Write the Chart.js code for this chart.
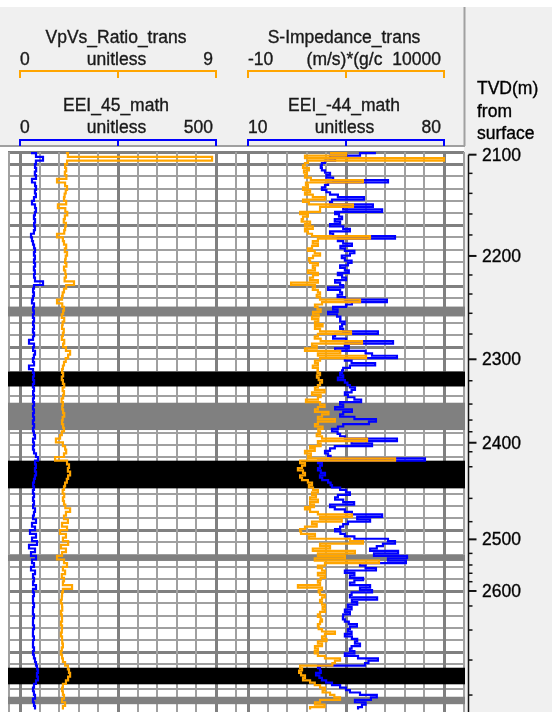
<!DOCTYPE html>
<html>
<head>
<meta charset="utf-8">
<title>Log display</title>
<script src="https://cdn.jsdelivr.net/npm/chart.js@4.4.1/dist/chart.umd.min.js"></script>
<style>
  html, body { margin: 0; padding: 0; background: #f0f0f0; }
  canvas { display: block; }
</style>
</head>
<body>
<canvas id="logChart" width="552" height="712"></canvas>
<script>
// ---- data (read off the reference log) ----
// left track curves were read every 3 m of measured depth
const depthMdLeft = [
  2091, 2094, 2097, 2100, 2103, 2106, 2109, 2112, 2115, 2118,
  2121, 2124, 2127, 2130, 2133, 2136, 2139, 2142, 2145, 2148,
  2151, 2154, 2157, 2160, 2163, 2166, 2169, 2172, 2175, 2178,
  2181, 2184, 2187, 2190, 2193, 2196, 2199, 2202, 2205, 2208,
  2211, 2214, 2217, 2220, 2223, 2226, 2229, 2232, 2235, 2238,
  2241, 2244, 2247, 2250, 2253, 2256, 2259, 2262, 2265, 2268,
  2271, 2274, 2277, 2280, 2283, 2286, 2289, 2292, 2295, 2298,
  2301, 2304, 2307, 2310, 2313, 2316, 2319, 2322, 2325, 2328,
  2331, 2334, 2337, 2340, 2343, 2346, 2349, 2352, 2355, 2358,
  2361, 2364, 2367, 2370, 2373, 2376, 2379, 2382, 2385, 2388,
  2391, 2394, 2397, 2400, 2403, 2406, 2409, 2412, 2415, 2418,
  2421, 2424, 2427, 2430, 2433, 2436, 2439, 2442, 2445, 2448,
  2451, 2454, 2457, 2460, 2463, 2466, 2469, 2472, 2475, 2478,
  2481, 2484, 2487, 2490, 2493, 2496, 2499, 2502, 2505, 2508,
  2511, 2514, 2517, 2520, 2523, 2526, 2529, 2532, 2535, 2538,
  2541, 2544, 2547
];

const vpvsRatio = [
  2.11, 2.20, 8.82, 2.16, 2.07, 2.12, 2.06, 2.13, 1.70, 2.07,
  2.16, 2.10, 2.05, 2.02, 2.12, 1.74, 2.08, 2.17, 2.06, 2.01,
  2.11, 2.07, 2.03, 1.70, 1.97, 2.02, 2.12, 2.06, 2.16, 2.10,
  2.07, 2.13, 2.02, 2.08, 2.11, 2.05, 2.48, 2.12, 2.02, 1.96,
  1.93, 1.70, 1.94, 2.02, 1.98, 1.92, 2.03, 1.96, 1.93, 2.01,
  1.97, 1.92, 2.03, 1.98, 2.11, 2.30, 2.21, 2.10, 2.02, 1.97,
  1.93, 1.98, 1.92, 1.97, 2.03, 1.96, 2.02, 1.98, 1.91, 1.97,
  1.94, 1.98, 2.03, 1.96, 1.93, 1.98, 2.02, 1.92, 1.84, 1.65,
  1.97, 2.07, 2.12, 2.02, 1.61, 2.16, 2.25, 2.20, 2.30, 2.21,
  2.15, 2.07, 2.02, 1.96, 2.03, 1.97, 2.02, 2.08, 2.30, 2.11,
  2.02, 2.20, 1.93, 2.16, 1.84, 2.11, 1.97, 2.21, 1.88, 2.11,
  1.93, 1.70, 2.02, 2.16, 1.97, 2.07, 1.92, 2.02, 1.97, 2.39,
  1.97, 1.93, 1.92, 1.88, 1.93, 1.94, 1.88, 1.92, 1.93, 1.88,
  1.93, 1.92, 1.88, 1.93, 1.94, 1.97, 1.92, 1.88, 1.93, 1.97,
  2.07, 2.20, 2.25, 2.30, 2.21, 2.11, 1.97, 1.93, 1.97, 2.02,
  1.93, 2.07, 1.97
];

const eei45 = [
  28.1, 40.8, 58.7, 40.6, 38.3, 41.2, 37.9, 40.8, 30.6, 38.4,
  40.9, 38.1, 40.5, 35.7, 30.6, 38.3, 40.8, 38.0, 35.6, 38.4,
  35.9, 38.2, 35.5, 28.1, 30.6, 33.2, 35.8, 38.3, 35.6, 38.1,
  35.7, 38.4, 35.5, 37.9, 35.8, 38.2, 58.7, 35.7, 33.3, 35.6,
  33.1, 30.6, 35.7, 33.4, 35.5, 33.0, 35.8, 33.3, 35.6, 33.1,
  35.9, 33.2, 23.0, 35.7, 33.4, 38.3, 35.5, 33.1, 35.8, 23.0,
  33.2, 35.6, 33.3, 35.9, 33.0, 35.7, 33.4, 35.5, 33.2, 35.8,
  33.1, 35.6, 33.3, 35.7, 33.0, 35.9, 33.2, 35.5, 38.3, 33.3,
  35.7, 33.1, 35.8, 40.8, 45.9, 38.3, 40.6, 38.2, 40.9, 38.1,
  35.7, 33.3, 35.6, 33.0, 35.8, 33.2, 35.7, 33.4, 38.3, 35.6,
  33.2, 40.8, 30.6, 38.3, 25.5, 40.8, 30.6, 43.4, 23.0, 38.3,
  28.1, 40.8, 30.6, 35.7, 28.1, 38.3, 33.2, 35.7, 33.3, 40.8,
  33.2, 35.6, 33.1, 33.3, 35.7, 33.2, 33.0, 35.6, 33.3, 33.1,
  35.7, 33.2, 33.0, 35.5, 33.3, 33.1, 35.7, 33.2, 35.6, 38.3,
  40.8, 43.4, 45.9, 43.3, 45.8, 40.8, 35.7, 33.2, 35.6, 38.3,
  33.2, 35.7, 38.3
];

// right track curves were read every 2 m of measured depth
const depthMdRight = [
  2091, 2093, 2095, 2097, 2099, 2101, 2103, 2105, 2107, 2109,
  2111, 2113, 2115, 2117, 2119, 2121, 2123, 2125, 2127, 2129,
  2131, 2133, 2135, 2137, 2139, 2141, 2143, 2145, 2147, 2149,
  2151, 2153, 2155, 2157, 2159, 2161, 2163, 2165, 2167, 2169,
  2171, 2173, 2175, 2177, 2179, 2181, 2183, 2185, 2187, 2189,
  2191, 2193, 2195, 2197, 2199, 2201, 2203, 2205, 2207, 2209,
  2211, 2213, 2215, 2217, 2219, 2221, 2223, 2225, 2227, 2229,
  2231, 2233, 2235, 2237, 2239, 2241, 2243, 2245, 2247, 2249,
  2251, 2253, 2255, 2257, 2259, 2261, 2263, 2265, 2267, 2269,
  2271, 2273, 2275, 2277, 2279, 2281, 2283, 2285, 2287, 2289,
  2291, 2293, 2295, 2297, 2299, 2301, 2303, 2305, 2307, 2309,
  2311, 2313, 2315, 2317, 2319, 2321, 2323, 2325, 2327, 2329,
  2331, 2333, 2335, 2337, 2339, 2341, 2343, 2345, 2347, 2349,
  2351, 2353, 2355, 2357, 2359, 2361, 2363, 2365, 2367, 2369,
  2371, 2373, 2375, 2377, 2379, 2381, 2383, 2385, 2387, 2389,
  2391, 2393, 2395, 2397, 2399, 2401, 2403, 2405, 2407, 2409,
  2411, 2413, 2415, 2417, 2419, 2421, 2423, 2425, 2427, 2429,
  2431, 2433, 2435, 2437, 2439, 2441, 2443, 2445, 2447, 2449,
  2451, 2453, 2455, 2457, 2459, 2461, 2463, 2465, 2467, 2469,
  2471, 2473, 2475, 2477, 2479, 2481, 2483, 2485, 2487, 2489,
  2491, 2493, 2495, 2497, 2499, 2501, 2503, 2505, 2507, 2509,
  2511, 2513, 2515, 2517, 2519, 2521, 2523, 2525, 2527, 2529,
  2531, 2533, 2535, 2537, 2539, 2541, 2543, 2545, 2547
];

const sImpedance = [
  4180, 5000, 2900, 10000, 3050, 2900, 2800, 3100, 2850, 3000,
  2900, 3200, 5860, 2950, 3050, 2800, 3160, 2900, 3300, 3920,
  2800, 3100, 5350, 3670, 3670, 2650, 3050, 2800, 2730, 3160,
  2900, 3300, 2900, 3050, 3260, 6220, 3560, 3300, 3560, 3260,
  3050, 3400, 3670, 3310, 3100, 3160, 3560, 3300, 3410, 3050,
  3560, 3310, 3150, 3560, 2190, 3410, 3300, 3560, 3670, 3500,
  3670, 5710, 3770, 3410, 3540, 3700, 3310, 3600, 3260, 3580,
  3410, 3800, 3410, 3670, 5250, 3560, 3400, 3700, 5810, 3260,
  3500, 2900, 4700, 3560, 6020, 3670, 3410, 3560, 3300, 3560,
  3540, 3670, 3510, 3600, 3770, 3670, 3560, 3410, 3900, 3260,
  3700, 3560, 2950, 3670, 3900, 3560, 3410, 4100, 3770, 3560,
  4430, 3560, 3410, 3800, 3580, 3670, 3500, 3770, 6070, 3560,
  3700, 3160, 3400, 2900, 3200, 3050, 7500, 2650, 2900, 2750,
  2540, 2800, 2900, 2650, 2750, 3050, 3260, 3100, 3310, 3560,
  3260, 3460, 3160, 3560, 3160, 3360, 2900, 3160, 3560, 5300,
  3670, 4780, 3260, 3500, 2900, 2650, 2700, 3410, 3100, 5200,
  5860, 3670, 4180, 3300, 5450, 3560, 4940, 3400, 6680, 3920,
  3560, 3770, 3920, 3560, 3920, 3700, 3560, 3670, 2540, 3770,
  3600, 3670, 3920, 3770, 3670, 3770, 3920, 3800, 3920, 3670,
  3560, 3700, 3770, 3670, 3560, 3600, 3770, 4430, 3920, 3770,
  4000, 3560, 3770, 3410, 3560, 3400, 3560, 3920, 4690, 4430,
  4300, 2650, 2750, 2600, 2700, 2900, 2800, 3160, 3400, 3670,
  3920, 3800, 4180, 4400, 4690, 3670, 3410, 3900, 3160
];

const eeiMinus44 = [
  55.7, 50.0, 39.3, 41.1, 37.5, 36.4, 36.0, 36.4, 37.5, 39.3,
  38.0, 40.4, 60.0, 38.6, 37.5, 36.4, 38.0, 39.3, 42.1, 51.4,
  40.0, 39.3, 54.6, 44.0, 57.9, 41.1, 42.5, 43.6, 41.0, 42.9,
  39.3, 44.0, 46.4, 39.3, 40.4, 62.5, 42.1, 44.0, 47.1, 43.0,
  44.6, 48.0, 46.4, 43.5, 44.6, 47.0, 45.7, 42.9, 44.6, 46.0,
  42.1, 43.6, 45.0, 41.1, 42.9, 44.0, 38.6, 42.9, 43.6, 42.0,
  44.6, 59.6, 47.1, 45.0, 40.4, 42.0, 38.6, 41.8, 43.0, 42.9,
  44.5, 43.6, 42.9, 44.0, 56.4, 41.1, 40.4, 45.0, 61.8, 44.6,
  46.0, 41.1, 52.0, 54.3, 63.2, 44.6, 47.0, 55.4, 46.4, 44.0,
  43.6, 42.9, 44.0, 42.1, 44.6, 45.5, 46.4, 48.2, 47.0, 44.6,
  45.7, 48.0, 50.4, 42.9, 44.0, 41.1, 47.1, 44.0, 42.9, 48.0,
  55.7, 53.2, 44.0, 42.1, 40.0, 42.0, 42.9, 44.6, 63.2, 47.0,
  54.3, 41.0, 39.3, 37.5, 38.6, 39.5, 73.2, 35.0, 36.4, 35.7,
  35.0, 36.0, 37.5, 35.7, 36.5, 38.6, 39.5, 40.0, 42.9, 45.0,
  46.4, 42.1, 41.1, 44.0, 47.9, 39.3, 41.0, 44.6, 47.1, 57.9,
  49.0, 53.6, 45.7, 44.0, 42.9, 41.1, 43.0, 44.6, 48.0, 60.0,
  62.5, 58.2, 56.0, 53.6, 63.6, 55.0, 66.8, 60.0, 66.4, 50.0,
  52.0, 55.7, 44.6, 48.0, 46.4, 51.1, 48.0, 46.4, 53.6, 50.0,
  54.3, 47.0, 46.4, 56.1, 47.1, 49.0, 45.7, 47.0, 44.6, 46.4,
  44.0, 43.9, 44.6, 46.0, 48.9, 46.4, 45.7, 47.0, 44.6, 47.1,
  49.0, 48.2, 50.0, 47.0, 46.4, 48.0, 44.6, 49.3, 56.4, 53.0,
  51.8, 35.0, 35.7, 36.0, 34.3, 35.5, 36.4, 37.9, 40.0, 42.9,
  45.0, 46.4, 50.0, 56.0, 53.9, 48.2, 52.0, 50.7, 49.3
];

// curve headers: order = VpVs, EEI_45, S-Impedance, EEI_-44
const curveNames = ['VpVs_Ratio_trans', 'EEI_45_math', 'S-Impedance_trans', 'EEI_-44_math'];
const curveUnits = ['unitless', 'unitless', '(m/s)*(g/c', 'unitless'];
const curveMin = [0, 0, -10, 10];
const curveMax = [9, 500, 10000, 80];
const curveMinLabel = ['0', '0', '-10', '10'];
const curveMaxLabel = ['9', '500', '10000', '80'];

// TVD depth track: tick values and the measured depth where each sits
const tvdTicks = [
  2100, 2120, 2140, 2160, 2180, 2200, 2220, 2240, 2260, 2280,
  2300, 2320, 2340, 2360, 2380, 2400, 2420, 2440, 2460, 2480,
  2500, 2520, 2540, 2560, 2580, 2600, 2620, 2640, 2660, 2680
];
const tvdTickMd = [
  2092.2, 2107.5, 2123.9, 2140.8, 2158.0, 2175.2, 2190.8, 2206.4, 2222.2, 2239.2,
  2259.9, 2277.5, 2296.6, 2309.7, 2319.3, 2328.3, 2335.7, 2348.0, 2373.9, 2393.0,
  2407.5, 2419.0, 2428.5, 2435.3, 2442.2, 2449.8, 2462.1, 2481.8, 2506.4, 2535.1
];
const depthTitle = ['TVD(m)', 'from', 'surface'];

// zone bands across both tracks (measured depth top / base)
const zoneTop  = [2216.7, 2270.0, 2295.5, 2343.0, 2420.3, 2512.7, 2536.5];
const zoneBase = [2224.8, 2282.2, 2317.9, 2365.7, 2425.2, 2526.3, 2542.6];
const zoneKind = ['grey', 'black', 'grey', 'black', 'grey', 'black', 'grey'];

// ---- layout / style ----
const MD_TOP = 2090;
const MD_BOTTOM = 2549;
const PLOT = {left: 8, top: 152, right: 464, bottom: 712};
const TRACKS = [
  {left: 8, right: 236, scaleLeft: 20, scaleRight: 216},
  {left: 236, right: 464, scaleLeft: 248, scaleRight: 444}
];
const ORANGE = '#FFA500';
const BLUE = '#0000FF';
const PANEL_BG = '#f0f0f0';
const GRID_MINOR = '#a0a0a0';
const GRID_MAJOR = '#808080';
const ZONE_COLORS = {grey: '#808080', black: '#000000'};
const FONT = '17.5px "Liberation Sans", Arial, sans-serif';
const TEXT_COLOR = '#1a1a1a';

const curveScaleIds = ['vpvs', 'eei45', 'simp', 'eei44'];
const curveTrack = [0, 0, 1, 1];
const curveColor = [ORANGE, BLUE, ORANGE, BLUE];

// make a scale span the whole plot so that [lo, hi] lands on the track's scale bar
function stretchRange(lo, hi, track) {
  const perPx = (hi - lo) / (track.scaleRight - track.scaleLeft);
  return {
    min: lo - (track.scaleLeft - PLOT.left) * perPx,
    max: hi + (PLOT.right - track.scaleRight) * perPx
  };
}

function curveScale(k, showGrid) {
  const range = stretchRange(curveMin[k], curveMax[k], TRACKS[curveTrack[k]]);
  const lo = curveMin[k], hi = curveMax[k];
  return {
    type: 'linear',
    axis: 'x',
    position: 'bottom',
    display: showGrid,
    min: range.min,
    max: range.max,
    grace: 0,
    ticks: {display: false},
    border: {display: false},
    grid: {
      drawTicks: false,
      lineWidth: (c) => (c.index % 5 === 0 ? 3 : 2),
      color: (c) => (c.index % 5 === 0 ? GRID_MAJOR : GRID_MINOR)
    },
    afterBuildTicks: (scale) => {
      const ticks = [];
      for (let j = 0; j <= 10; j++) ticks.push({value: lo + (hi - lo) * j / 10});
      scale.ticks = ticks;
    }
  };
}

function lineSet(k, depths, values) {
  return {
    label: curveNames[k],
    data: depths.map((d, i) => ({x: values[i], y: d})),
    xAxisID: curveScaleIds[k],
    yAxisID: 'md',
    indexAxis: 'y',
    borderColor: curveColor[k],
    borderWidth: 2.2,
    pointRadius: 0,
    stepped: true,
    fill: false
  };
}

// slightly heavier text, like the ClearType rendering of the original
function heavyText(ctx, text, x, y) {
  ctx.fillText(text, x, y);
  ctx.strokeText(text, x, y);
}

const logFrame = {
  id: 'logFrame',
  beforeDraw(chart) {
    const {ctx} = chart;
    ctx.save();
    ctx.fillStyle = PANEL_BG;
    ctx.fillRect(0, 0, chart.width, chart.height);
    ctx.fillStyle = '#ffffff';
    ctx.fillRect(0, 0, chart.width, 7);
    ctx.fillRect(0, 147, PLOT.right, chart.height - 147);
    ctx.restore();
  },
  beforeDatasetsDraw(chart) {
    const {ctx, chartArea: a} = chart;
    const yS = chart.scales.md;
    ctx.save();
    // track borders
    ctx.strokeStyle = GRID_MINOR;
    ctx.lineWidth = 2;
    [TRACKS[0].left + 1, TRACKS[0].right, TRACKS[1].right].forEach((x) => {
      ctx.beginPath();
      ctx.moveTo(x, a.top);
      ctx.lineTo(x, a.bottom);
      ctx.stroke();
    });
    // zone bands
    zoneTop.forEach((top, i) => {
      const y0 = yS.getPixelForValue(top);
      const y1 = yS.getPixelForValue(zoneBase[i]);
      ctx.fillStyle = ZONE_COLORS[zoneKind[i]];
      ctx.fillRect(a.left, y0, a.right - a.left + 1, y1 - y0);
    });
    ctx.restore();
  },
  afterDraw(chart) {
    const {ctx} = chart;
    ctx.save();

    // header separators
    ctx.strokeStyle = '#a0a0a0';
    ctx.lineWidth = 2;
    ctx.beginPath();
    ctx.moveTo(0, 146);
    ctx.lineTo(PLOT.right + 1, 146);
    ctx.moveTo(PLOT.right + 0.5, 7);
    ctx.lineTo(PLOT.right + 0.5, 146);
    ctx.stroke();

    // curve headers
    const nameBase = [43, 111];
    const rangeBase = [65, 133];
    const barY = [71, 140];
    const barDrop = [7, 6];
    ctx.font = FONT;
    curveNames.forEach((name, k) => {
      const row = k % 2;
      const sc = chart.scales[curveScaleIds[k]];
      const x0 = sc.getPixelForValue(curveMin[k]);
      const x1 = sc.getPixelForValue(curveMax[k]);
      const xm = (x0 + x1) / 2;
      ctx.fillStyle = TEXT_COLOR;
      ctx.strokeStyle = TEXT_COLOR;
      ctx.lineWidth = 0.35;
      ctx.textBaseline = 'alphabetic';
      ctx.textAlign = 'center';
      heavyText(ctx, name, xm - 2, nameBase[row]);
      heavyText(ctx, curveUnits[k], xm - 1.5, rangeBase[row]);
      ctx.textAlign = 'left';
      heavyText(ctx, curveMinLabel[k], x0, rangeBase[row]);
      ctx.textAlign = 'right';
      heavyText(ctx, curveMaxLabel[k], x1 - 3, rangeBase[row]);

      ctx.strokeStyle = curveColor[k];
      ctx.lineWidth = 2;
      const y = barY[row];
      ctx.beginPath();
      ctx.moveTo(x0, y + barDrop[row]);
      ctx.lineTo(x0, y);
      ctx.lineTo(x1, y);
      ctx.lineTo(x1, y + barDrop[row]);
      ctx.moveTo(xm, y);
      ctx.lineTo(xm, y + barDrop[row]);
      ctx.stroke();
    });

    // depth track title
    ctx.fillStyle = '#000000';
    ctx.strokeStyle = '#000000';
    ctx.lineWidth = 0.35;
    ctx.textAlign = 'left';
    ctx.textBaseline = 'alphabetic';
    depthTitle.forEach((t, i) => heavyText(ctx, t, 477, 94 + i * 22.5));

    // depth axis
    const yS = chart.scales.md;
    const axisX = 468.5;
    ctx.strokeStyle = '#111111';
    ctx.lineWidth = 1.5;
    ctx.beginPath();
    ctx.moveTo(axisX, yS.getPixelForValue(tvdTickMd[0]));
    ctx.lineTo(axisX, PLOT.bottom);
    ctx.stroke();
    ctx.textBaseline = 'middle';
    tvdTicks.forEach((tvd, i) => {
      const y = yS.getPixelForValue(tvdTickMd[i]);
      const major = tvd % 100 === 0;
      ctx.lineWidth = major ? 2 : 1.5;
      ctx.beginPath();
      ctx.moveTo(axisX, y);
      ctx.lineTo(axisX + (major ? 8 : 4), y);
      ctx.stroke();
      if (major) {
        ctx.lineWidth = 0.35;
        heavyText(ctx, String(tvd), 482, y + 1);
      }
    });

    ctx.restore();
  }
};

new Chart(document.getElementById('logChart'), {
  type: 'line',
  data: {
    datasets: [
      lineSet(0, depthMdLeft, vpvsRatio),
      lineSet(2, depthMdRight, sImpedance),
      lineSet(1, depthMdLeft, eei45),
      lineSet(3, depthMdRight, eeiMinus44)
    ]
  },
  options: {
    responsive: false,
    maintainAspectRatio: false,
    devicePixelRatio: 1,
    animation: false,
    layout: {
      padding: {
        left: PLOT.left,
        top: PLOT.top,
        right: 552 - PLOT.right,
        bottom: 712 - PLOT.bottom
      }
    },
    plugins: {
      legend: {display: false},
      tooltip: {enabled: false},
      title: {display: false}
    },
    scales: {
      md: {
        type: 'linear',
        axis: 'y',
        position: 'left',
        reverse: true,
        min: MD_TOP,
        max: MD_BOTTOM,
        ticks: {display: false},
        border: {display: false},
        grid: {
          drawTicks: false,
          lineWidth: (c) => (c.tick.value % 50 === 0 || c.tick.value === MD_TOP ? 3 : 2),
          color: (c) => (c.tick.value % 50 === 0 || c.tick.value === MD_TOP ? GRID_MAJOR : GRID_MINOR)
        },
        afterBuildTicks: (scale) => {
          const ticks = [];
          for (let v = MD_TOP; v < MD_BOTTOM; v += 10) ticks.push({value: v});
          scale.ticks = ticks;
        }
      },
      vpvs: curveScale(0, true),
      eei45: curveScale(1, false),
      simp: curveScale(2, true),
      eei44: curveScale(3, false)
    }
  },
  plugins: [logFrame]
});
</script>
</body>
</html>
